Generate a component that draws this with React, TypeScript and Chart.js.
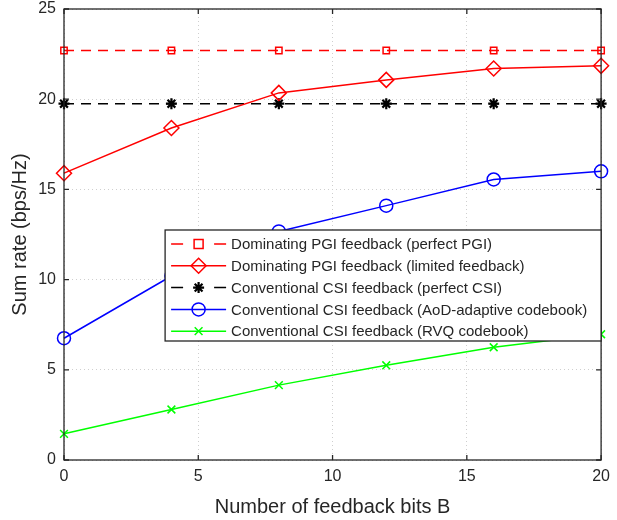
import React, { useEffect, useRef } from "react";
import { Chart, registerables } from "chart.js";

Chart.register(...registerables);

const bits = [0, 4, 8, 12, 16, 20];
const pgiPerfect = [22.7, 22.7, 22.7, 22.7, 22.7, 22.7];
const pgiLimited = [15.9, 18.4, 20.35, 21.07, 21.7, 21.85];
const csiPerfect = [19.75, 19.75, 19.75, 19.75, 19.75, 19.75];
const csiAod = [6.75, 10.2, 12.67, 14.1, 15.55, 16.0];
const csiRvq = [1.45, 2.8, 4.15, 5.25, 6.25, 6.97];

const xTicks = [0, 5, 10, 15, 20];
const yTicks = [0, 5, 10, 15, 20, 25];

const labels = [
  "Dominating PGI feedback (perfect PGI)",
  "Dominating PGI feedback (limited feedback)",
  "Conventional CSI feedback (perfect CSI)",
  "Conventional CSI feedback (AoD-adaptive codebook)",
  "Conventional CSI feedback (RVQ codebook)",
];

const FONT = "'Liberation Sans', Arial, sans-serif";
const SHIFT = 7;

const toPts = (ys: number[]) => bits.map((x, i) => ({ x, y: ys[i] }));

function drawMarker(ctx: CanvasRenderingContext2D, style: string, r: number, x: number, y: number) {
  ctx.beginPath();
  if (style === "rect") {
    ctx.rect(x - r, y - r, 2 * r, 2 * r);
  } else if (style === "rectRot") {
    ctx.moveTo(x, y - r);
    ctx.lineTo(x + r, y);
    ctx.lineTo(x, y + r);
    ctx.lineTo(x - r, y);
    ctx.closePath();
  } else if (style === "circle") {
    ctx.arc(x, y, r, 0, Math.PI * 2);
  } else if (style === "crossRot") {
    const d = r * 0.7071;
    ctx.moveTo(x - d, y - d);
    ctx.lineTo(x + d, y + d);
    ctx.moveTo(x + d, y - d);
    ctx.lineTo(x - d, y + d);
  } else if (style === "star") {
    for (let k = 0; k < 4; k++) {
      const ang = (k * Math.PI) / 4;
      ctx.moveTo(x - r * Math.cos(ang), y - r * Math.sin(ang));
      ctx.lineTo(x + r * Math.cos(ang), y + r * Math.sin(ang));
    }
  }
  ctx.stroke();
}

const boxPlugin = {
  id: "boxPlugin",
  afterDatasetsDraw(chart: any) {
    const { ctx, chartArea: a } = chart;
    ctx.save();
    ctx.strokeStyle = "#262626";
    ctx.lineWidth = 1.3;
    ctx.setLineDash([]);
    ctx.strokeRect(a.left, a.top, a.right - a.left, a.bottom - a.top);
    const xs = chart.scales.x;
    const ys = chart.scales.y;
    xTicks.forEach((v) => {
      const px = xs.getPixelForValue(v);
      ctx.beginPath();
      ctx.moveTo(px, a.bottom);
      ctx.lineTo(px, a.bottom - 5);
      ctx.moveTo(px, a.top);
      ctx.lineTo(px, a.top + 5);
      ctx.stroke();
    });
    yTicks.forEach((v) => {
      const py = ys.getPixelForValue(v);
      ctx.beginPath();
      ctx.moveTo(a.left, py);
      ctx.lineTo(a.left + 5, py);
      ctx.moveTo(a.right, py);
      ctx.lineTo(a.right - 5, py);
      ctx.stroke();
    });
    // legend
    const lw = 436;
    const lh = 111;
    const lx = a.right - lw;
    const ly = a.top + 221;
    ctx.fillStyle = "#ffffff";
    ctx.fillRect(lx, ly, lw, lh);
    ctx.strokeStyle = "#262626";
    ctx.lineWidth = 1.3;
    ctx.strokeRect(lx, ly, lw, lh);
    ctx.font = `15px ${FONT}`;
    ctx.textBaseline = "middle";
    chart.data.datasets.forEach((ds: any, i: number) => {
      const cy = ly + 14 + i * 21.8;
      const x0 = lx + 6;
      const x1 = lx + 61;
      ctx.strokeStyle = ds.borderColor;
      ctx.lineWidth = ds.borderWidth;
      ctx.beginPath();
      if (ds.borderDash) {
        ctx.moveTo(x0, cy);
        ctx.lineTo(x0 + 12, cy);
        ctx.moveTo(x1 - 12, cy);
        ctx.lineTo(x1, cy);
      } else {
        ctx.moveTo(x0, cy);
        ctx.lineTo(x1, cy);
      }
      ctx.stroke();
      ctx.lineWidth = ds.pointBorderWidth;
      drawMarker(ctx, ds.pointStyle, ds.pointRadius, (x0 + x1) / 2, cy);
      ctx.fillStyle = "#262626";
      ctx.fillText(labels[i], lx + 66, cy + 1);
    });
    ctx.restore();
  },
};

export default function App() {
  const ref = useRef<HTMLCanvasElement>(null);
  useEffect(() => {
    document.body.style.margin = "0";
    const mk = (
      data: number[],
      color: string,
      style: string,
      radius: number,
      dash?: number[]
    ) => ({
      data: toPts(data),
      borderColor: color,
      backgroundColor: "transparent",
      pointBackgroundColor: "transparent",
      pointBorderColor: color,
      pointStyle: style,
      pointRadius: radius,
      pointBorderWidth: style === "star" ? 2.2 : 1.5,
      borderWidth: 1.5,
      borderDash: dash,
      tension: 0,
      fill: false,
      clip: false,
    });
    const chart = new Chart(ref.current!, {
      type: "line",
      data: {
        datasets: [
          mk(pgiPerfect, "#ff0000", "rect", 4.5, [10, 7]),
          mk(pgiLimited, "#ff0000", "rectRot", 7.5),
          mk(csiPerfect, "#000000", "star", 5.5, [10, 7]),
          mk(csiAod, "#0000ff", "circle", 6.5),
          mk(csiRvq, "#00ff00", "crossRot", 5.5),
        ] as any,
      },
      plugins: [boxPlugin],
      options: {
        animation: false,
        responsive: false,
        layout: { padding: { top: 0, right: 15, left: 0, bottom: 0 } },
        plugins: { legend: { display: false }, tooltip: { enabled: false } },
        scales: {
          x: {
            type: "linear",
            min: 0,
            max: 20,
            ticks: {
              stepSize: 5,
              color: "#262626",
              font: { family: FONT, size: 16 },
              padding: 7,
            },
            grid: { color: "#cfcfcf", drawTicks: false, lineWidth: 1 },
            border: { display: false, dash: [1, 3] },
            title: {
              display: true,
              text: "Number of feedback bits B",
              color: "#262626",
              font: { family: FONT, size: 20 },
              padding: { top: 0, bottom: 1 },
            },
            afterFit(s: any) {
              s.height = 60;
            },
          },
          y: {
            min: 0,
            max: 25,
            ticks: {
              stepSize: 5,
              color: "#262626",
              font: { family: FONT, size: 16, lineHeight: 1 },
              padding: 8,
            },
            grid: { color: "#cfcfcf", drawTicks: false, lineWidth: 1 },
            border: { display: false, dash: [1, 3] },
            title: {
              display: true,
              text: "Sum rate (bps/Hz)",
              color: "#262626",
              font: { family: FONT, size: 20 },
              padding: { top: 8, bottom: 0 },
            },
            afterFit(s: any) {
              s.width = 64;
            },
          },
        },
      } as any,
    });
    return () => chart.destroy();
  }, []);
  return (
    <div style={{ width: 617, height: 520, background: "#fff", overflow: "hidden" }}>
      <canvas
        ref={ref}
        width={617}
        height={520 + SHIFT}
        style={{ display: "block", marginTop: -SHIFT }}
      />
    </div>
  );
}
